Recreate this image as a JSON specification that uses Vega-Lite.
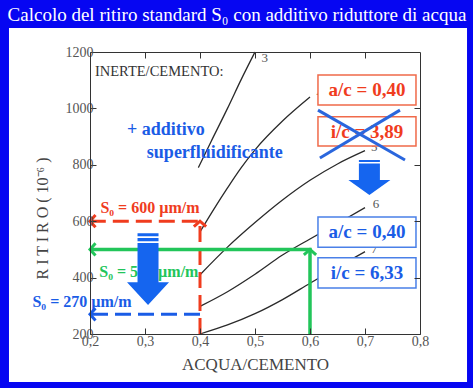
{
  "$schema": "https://vega.github.io/schema/vega-lite/v6.json",
  "width": 330,
  "height": 282,
  "autosize": {"type": "none"},
  "padding": {"left": 90, "top": 52, "right": 53, "bottom": 54},
  "background": "#0606f2",
  "title": {
    "text": "Calcolo del ritiro standard S₀ con additivo riduttore di acqua",
    "color": "white",
    "font": "Liberation Serif",
    "fontSize": 19,
    "fontWeight": "normal",
    "anchor": "middle",
    "baseline": "alphabetic",
    "dx": -18,
    "dy": 20,
    "offset": 8
  },
  "config": {
    "view": {"stroke": null},
    "axis": {"grid": false}
  },
  "datasets": {
    "panel": [{"x": 0.0527, "x2": 0.8855, "y": 30, "y2": 1285}],
    "curves": [
      {"ic": "3", "x": 0.397, "y": 790}, {"ic": "3", "x": 0.42, "y": 882}, {"ic": "3", "x": 0.45, "y": 1000}, {"ic": "3", "x": 0.475, "y": 1103}, {"ic": "3", "x": 0.5, "y": 1200},
      {"ic": "4", "x": 0.4, "y": 562}, {"ic": "4", "x": 0.425, "y": 642}, {"ic": "4", "x": 0.45, "y": 718}, {"ic": "4", "x": 0.475, "y": 790}, {"ic": "4", "x": 0.5, "y": 853}, {"ic": "4", "x": 0.55, "y": 955}, {"ic": "4", "x": 0.6, "y": 1040},
      {"ic": "5", "x": 0.4, "y": 410}, {"ic": "5", "x": 0.45, "y": 508}, {"ic": "5", "x": 0.5, "y": 595}, {"ic": "5", "x": 0.55, "y": 675}, {"ic": "5", "x": 0.6, "y": 745}, {"ic": "5", "x": 0.65, "y": 803}, {"ic": "5", "x": 0.7, "y": 850},
      {"ic": "6", "x": 0.4, "y": 298}, {"ic": "6", "x": 0.45, "y": 350}, {"ic": "6", "x": 0.5, "y": 412}, {"ic": "6", "x": 0.55, "y": 480}, {"ic": "6", "x": 0.6, "y": 537}, {"ic": "6", "x": 0.65, "y": 592}, {"ic": "6", "x": 0.7, "y": 648},
      {"ic": "7", "x": 0.4, "y": 200}, {"ic": "7", "x": 0.45, "y": 232}, {"ic": "7", "x": 0.5, "y": 272}, {"ic": "7", "x": 0.55, "y": 322}, {"ic": "7", "x": 0.6, "y": 380}, {"ic": "7", "x": 0.65, "y": 437}, {"ic": "7", "x": 0.7, "y": 492}
    ],
    "curveLabels": [
      {"t": "3", "x": 0.512, "y": 1180},
      {"t": "4", "x": 0.612, "y": 1055},
      {"t": "5", "x": 0.711, "y": 862},
      {"t": "6", "x": 0.714, "y": 660},
      {"t": "7", "x": 0.711, "y": 502}
    ],
    "redPath": [{"x": 0.4, "y": 200, "o": 1}, {"x": 0.4, "y": 600, "o": 2}, {"x": 0.2, "y": 600, "o": 3}],
    "greenPath": [{"x": 0.6, "y": 200, "o": 1}, {"x": 0.6, "y": 500, "o": 2}, {"x": 0.2, "y": 500, "o": 3}],
    "bluePath": [{"x": 0.4, "y": 270, "o": 1}, {"x": 0.2, "y": 270, "o": 2}],
    "redHeads": [{"x": 0.4, "y": 600, "dir": "up"}, {"x": 0.2, "y": 600, "dir": "left"}],
    "greenHeads": [{"x": 0.6, "y": 500, "dir": "up"}, {"x": 0.2, "y": 500, "dir": "left"}],
    "blueHeads": [{"x": 0.2, "y": 270, "dir": "left"}],
    "inerte": [{"x": 0.209, "y": 1129, "t": "INERTE/CEMENTO:"}],
    "additivo": [{"x": 0.338, "y": 923, "t": "+ additivo"}, {"x": 0.427, "y": 842, "t": "superfluidificante"}],
    "s0red": [{"x": 0.309, "y": 648, "t": "S₀ = 600 µm/m"}],
    "s0green": [{"x": 0.307, "y": 420, "t": "S₀ = 500 µm/m"}],
    "s0blue": [{"x": 0.1855, "y": 313, "t": "S₀ = 270 µm/m"}],
    "redBoxes": [{"x": 0.6145, "x2": 0.7927, "y": 1012, "y2": 1118}, {"x": 0.6145, "x2": 0.7927, "y": 867, "y2": 970}],
    "redBoxText": [{"x": 0.7036, "y": 1065, "t": "a/c = 0,40"}, {"x": 0.7036, "y": 918, "t": "i/c = 3,89"}],
    "blueBoxes": [{"x": 0.6145, "x2": 0.7927, "y": 508, "y2": 615}, {"x": 0.6145, "x2": 0.7927, "y": 363, "y2": 470}],
    "blueBoxText": [{"x": 0.7036, "y": 562, "t": "a/c = 0,40"}, {"x": 0.7036, "y": 416, "t": "i/c = 6,33"}],
    "cross": [{"x": 0.6145, "y": 994, "x2": 0.7727, "y2": 817}, {"x": 0.7636, "y": 994, "x2": 0.618, "y2": 824}],
    "bigArrow1": [{"x": 0.3055, "y": 430}],
    "bigArrow2": [{"x": 0.708, "y": 755}]
  },
  "encoding": {
    "x": {"field": "x", "type": "quantitative", "scale": {"domain": [0.2, 0.8], "nice": false, "zero": false}, "axis": null},
    "y": {"field": "y", "type": "quantitative", "scale": {"domain": [200, 1200], "nice": false, "zero": false}, "axis": null}
  },
  "layer": [
    {
      "data": {"name": "panel"},
      "mark": {"type": "rect", "color": "white", "clip": false},
      "encoding": {"x2": {"field": "x2"}, "y2": {"field": "y2"}}
    },
    {
      "data": {"name": "curves"},
      "mark": {"type": "line", "color": "#2a2a2a", "strokeWidth": 1.3, "interpolate": "monotone"},
      "encoding": {
        "detail": {"field": "ic"},
        "x": {"field": "x", "type": "quantitative", "scale": {"domain": [0.2, 0.8], "nice": false, "zero": false},
          "axis": {"orient": "bottom", "values": [0.2, 0.3, 0.4, 0.5, 0.6, 0.7, 0.8], "labelExpr": "replace(format(datum.value, '.1f'), '.', ',')",
            "tickSize": -6, "tickColor": "#333", "domainColor": "#333", "labelColor": "#555", "labelFont": "Liberation Serif", "labelFontSize": 14,
            "labelPadding": 6, "labelFlush": false, "labelOverlap": false, "title": "ACQUA/CEMENTO", "titleFont": "Liberation Serif", "titleFontSize": 17,
            "titleFontWeight": "normal", "titleColor": "#444", "titleY": 30, "titleBaseline": "middle", "zindex": 1}},
        "y": {"field": "y", "type": "quantitative", "scale": {"domain": [200, 1200], "nice": false, "zero": false},
          "axis": {"orient": "left", "values": [200, 400, 600, 800, 1000, 1200], "format": "d", "tickSize": -6, "tickColor": "#333", "domainColor": "#333",
            "labelColor": "#555", "labelFont": "Liberation Serif", "labelFontSize": 14, "labelPadding": 3, "labelOverlap": false,
            "title": "R I T I R O     ( 10⁻⁶ )", "titleFont": "Liberation Serif", "titleFontSize": 16, "titleFontWeight": "normal", "titleColor": "#444",
            "titleAngle": 270, "titleAlign": "center", "titleBaseline": "middle", "titleX": -48, "titleY": 166, "zindex": 1}}
      }
    },
    {
      "data": {"name": "curveLabels"},
      "mark": {"type": "text", "color": "#555", "font": "Liberation Serif", "fontSize": 13, "align": "left", "baseline": "middle"},
      "encoding": {
        "text": {"field": "t"},
        "x": {"field": "x", "type": "quantitative", "scale": {"domain": [0.2, 0.8], "nice": false, "zero": false},
          "axis": {"orient": "top", "values": [0.3, 0.4, 0.5, 0.6, 0.7], "labels": false, "tickSize": -6, "tickColor": "#333", "domainColor": "#333", "title": null, "zindex": 1}},
        "y": {"field": "y", "type": "quantitative", "scale": {"domain": [200, 1200], "nice": false, "zero": false},
          "axis": {"orient": "right", "values": [400, 600, 800, 1000], "labels": false, "tickSize": -6, "tickColor": "#333", "domainColor": "#333", "title": null, "zindex": 1}}
      }
    },
    {
      "data": {"name": "redPath"},
      "mark": {"type": "line", "color": "#f03c1e", "strokeWidth": 3, "strokeDash": [16, 7]},
      "encoding": {"order": {"field": "o"}}
    },
    {
      "data": {"name": "greenPath"},
      "mark": {"type": "line", "color": "#22c55a", "strokeWidth": 3.5},
      "encoding": {"order": {"field": "o"}}
    },
    {
      "data": {"name": "bluePath"},
      "mark": {"type": "line", "color": "#1a5ce6", "strokeWidth": 3, "strokeDash": [16, 7]},
      "encoding": {"order": {"field": "o"}}
    },
    {
      "data": {"name": "redHeads"},
      "mark": {"type": "point", "filled": false, "color": "#f03c1e", "strokeWidth": 3, "size": 150, "opacity": 1},
      "encoding": {"shape": {"field": "dir", "type": "nominal", "scale": {"domain": ["up", "left"], "range": ["M-1,0.9L0,0L1,0.9", "M0.9,-1L0,0L0.9,1"]}, "legend": null}}
    },
    {
      "data": {"name": "greenHeads"},
      "mark": {"type": "point", "filled": false, "color": "#22c55a", "strokeWidth": 3, "size": 150, "opacity": 1},
      "encoding": {"shape": {"field": "dir", "type": "nominal", "scale": {"domain": ["up", "left"], "range": ["M-1,0.9L0,0L1,0.9", "M0.9,-1L0,0L0.9,1"]}, "legend": null}}
    },
    {
      "data": {"name": "blueHeads"},
      "mark": {"type": "point", "filled": false, "color": "#1a5ce6", "strokeWidth": 3, "size": 150, "opacity": 1},
      "encoding": {"shape": {"field": "dir", "type": "nominal", "scale": {"domain": ["up", "left"], "range": ["M-1,0.9L0,0L1,0.9", "M0.9,-1L0,0L0.9,1"]}, "legend": null}}
    },
    {
      "data": {"name": "inerte"},
      "mark": {"type": "text", "color": "#333", "font": "Liberation Serif", "fontSize": 14.5, "align": "left", "baseline": "middle"},
      "encoding": {"text": {"field": "t"}}
    },
    {
      "data": {"name": "additivo"},
      "mark": {"type": "text", "color": "#1a5ce6", "font": "Liberation Serif", "fontSize": 18, "fontWeight": "bold", "align": "center", "baseline": "middle"},
      "encoding": {"text": {"field": "t"}}
    },
    {
      "data": {"name": "s0red"},
      "mark": {"type": "text", "color": "#f03c1e", "font": "Liberation Serif", "fontSize": 16, "fontWeight": "bold", "align": "center", "baseline": "middle"},
      "encoding": {"text": {"field": "t"}}
    },
    {
      "data": {"name": "s0green"},
      "mark": {"type": "text", "color": "#22c55a", "font": "Liberation Serif", "fontSize": 16, "fontWeight": "bold", "align": "center", "baseline": "middle"},
      "encoding": {"text": {"field": "t"}}
    },
    {
      "data": {"name": "s0blue"},
      "mark": {"type": "text", "color": "#1a5ce6", "font": "Liberation Serif", "fontSize": 16, "fontWeight": "bold", "align": "center", "baseline": "middle", "clip": false},
      "encoding": {"text": {"field": "t"}}
    },
    {
      "data": {"name": "redBoxes"},
      "mark": {"type": "rect", "fill": "white", "stroke": "#f06a4a", "strokeWidth": 1.5},
      "encoding": {"x2": {"field": "x2"}, "y2": {"field": "y2"}}
    },
    {
      "data": {"name": "redBoxText"},
      "mark": {"type": "text", "color": "#f03c1e", "font": "Liberation Serif", "fontSize": 19, "fontWeight": "bold", "align": "center", "baseline": "middle"},
      "encoding": {"text": {"field": "t"}}
    },
    {
      "data": {"name": "blueBoxes"},
      "mark": {"type": "rect", "fill": "white", "stroke": "#4a80e8", "strokeWidth": 1.5},
      "encoding": {"x2": {"field": "x2"}, "y2": {"field": "y2"}}
    },
    {
      "data": {"name": "blueBoxText"},
      "mark": {"type": "text", "color": "#1a5ce6", "font": "Liberation Serif", "fontSize": 19, "fontWeight": "bold", "align": "center", "baseline": "middle"},
      "encoding": {"text": {"field": "t"}}
    },
    {
      "data": {"name": "cross"},
      "mark": {"type": "rule", "color": "#2a66dd", "strokeWidth": 3},
      "encoding": {"x2": {"field": "x2"}, "y2": {"field": "y2"}}
    },
    {
      "data": {"name": "bigArrow1"},
      "mark": {"type": "point", "filled": true, "color": "#1565ef", "opacity": 1, "size": 1764,
        "shape": "M-0.5,-1.71L0.5,-1.71L0.5,-1.57L-0.5,-1.57Z M-0.5,-1.48L0.5,-1.48L0.5,-1.33L-0.5,-1.33Z M-0.5,-1.24L0.5,-1.24L0.5,0.62L1,0.62L0,1.71L-1,0.62L-0.5,0.62Z"},
      "encoding": {}
    },
    {
      "data": {"name": "bigArrow2"},
      "mark": {"type": "point", "filled": true, "color": "#1565ef", "opacity": 1, "size": 1764,
        "shape": "M-0.5,-0.83L0.5,-0.83L0.5,-0.74L-0.5,-0.74Z M-0.5,-0.67L0.5,-0.67L0.5,0.12L1,0.12L0,0.83L-1,0.12L-0.5,0.12Z"},
      "encoding": {}
    }
  ],
  "resolve": {"axis": {"x": "independent", "y": "independent"}}
}
